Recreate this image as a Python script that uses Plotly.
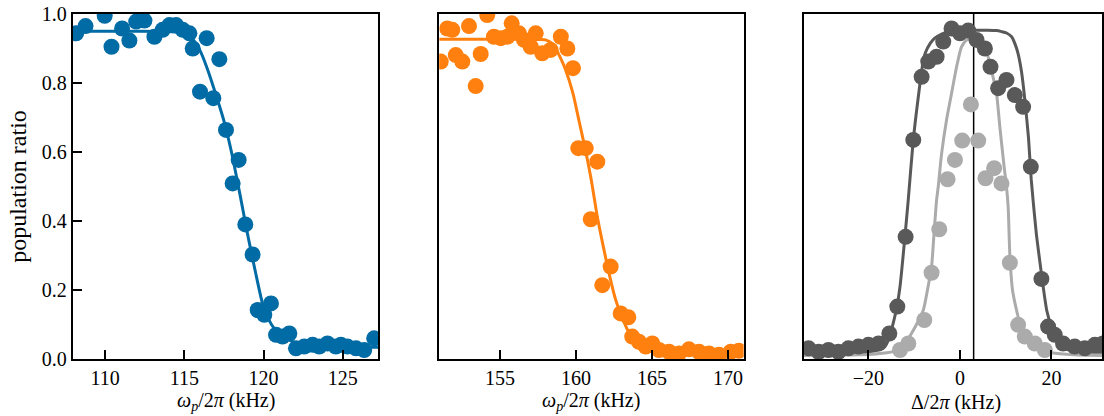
import plotly.graph_objects as go

# ---- panel 1: blue resonance scan ----
blue_x = [108.17, 108.76, 109.97, 110.4, 111.07, 111.53, 111.96, 112.48, 113.11, 113.63,
          114.06, 114.48, 114.9, 115.32, 115.53, 115.99, 116.41, 116.83, 117.21, 117.63,
          118.05, 118.43, 118.85, 119.31, 119.63, 120.05, 120.47, 120.79, 121.2, 121.63,
          122.05, 122.57, 123.1, 123.52, 124.04, 124.57, 124.89, 125.3, 125.84, 126.36, 126.99]
blue_y = [0.944, 0.965, 0.995, 0.905, 0.958, 0.923, 0.978, 0.981, 0.934, 0.954,
          0.968, 0.968, 0.954, 0.944, 0.900, 0.775, 0.930, 0.756, 0.869, 0.664,
          0.509, 0.577, 0.390, 0.303, 0.142, 0.128, 0.161, 0.070, 0.065, 0.074,
          0.031, 0.036, 0.041, 0.036, 0.045, 0.036, 0.041, 0.036, 0.031, 0.026, 0.060]
blue_fit_x = [108.0, 110, 112, 114, 115, 115.5, 116, 116.5, 117, 117.5, 118, 118.5,
              119, 119.5, 120, 120.5, 121, 121.5, 122, 123, 124, 125, 126, 127.3]
blue_fit_y = [0.950, 0.950, 0.950, 0.949, 0.944, 0.928, 0.893, 0.835, 0.765, 0.690, 0.595, 0.480,
              0.360, 0.250, 0.150, 0.100, 0.072, 0.058, 0.048, 0.040, 0.036, 0.035, 0.034, 0.034]

# ---- panel 2: orange resonance scan ----
orange_x = [151.1, 151.53, 151.86, 152.09, 152.52, 152.96, 153.4, 153.73, 154.16, 154.6,
            155.05, 155.48, 155.77, 156.25, 156.58, 157.02, 157.35, 157.78, 158.33, 159.0,
            159.43, 159.8, 160.15, 160.64, 160.97, 161.4, 161.73, 162.28, 162.94, 163.44,
            163.7, 164.14, 164.59, 165.02, 165.46, 166.12, 166.78, 167.43, 168.09, 168.75,
            169.41, 170.18, 170.72]
orange_y = [0.862, 0.958, 0.954, 0.881, 0.862, 0.965, 0.791, 0.884, 0.997, 0.934,
            0.930, 0.934, 0.973, 0.944, 0.925, 0.905, 0.944, 0.886, 0.896, 0.934,
            0.900, 0.843, 0.611, 0.611, 0.405, 0.572, 0.214, 0.268, 0.132, 0.121,
            0.065, 0.050, 0.036, 0.045, 0.026, 0.021, 0.016, 0.028, 0.021, 0.016,
            0.012, 0.021, 0.024]
orange_fit_x = [151, 153, 155, 157, 158, 158.5, 158.9, 159.3, 159.8, 160.2, 160.6, 161.0,
                161.4, 161.8, 162.2, 162.6, 163.0, 163.4, 164.0, 164.6, 165.5, 167, 169, 171]
orange_fit_y = [0.927, 0.927, 0.927, 0.927, 0.925, 0.912, 0.880, 0.840, 0.770, 0.690, 0.610, 0.520,
                0.413, 0.325, 0.243, 0.173, 0.125, 0.084, 0.052, 0.033, 0.021, 0.015, 0.013, 0.012]

# ---- panel 3: detuning scans (dark and light gray) ----
dark_x = [-33.1, -30.9, -28.75, -26.57, -24.39, -22.2, -20.02, -17.8, -15.44, -13.69,
          -11.88, -10.2, -8.38, -6.92, -5.1, -3.65, -1.83, 0.0, 1.81, 3.63,
          5.46, 6.69, 8.36, 10.18, 12.0, 13.82, 15.5, 17.82, 19.28, 20.74,
          22.55, 25.1, 27.3, 29.5, 31.3]
dark_y = [0.031, 0.021, 0.026, 0.021, 0.031, 0.036, 0.041, 0.045, 0.074, 0.152,
          0.354, 0.635, 0.818, 0.862, 0.876, 0.920, 0.958, 0.944, 0.952, 0.925,
          0.900, 0.847, 0.785, 0.809, 0.765, 0.731, 0.557, 0.232, 0.094, 0.070,
          0.045, 0.036, 0.031, 0.041, 0.045]
dark_fit_x = [-34.2, -25, -20, -18, -16.4, -15.5, -14.6, -13.8, -13.1, -12.2, -11.3, -10.2,
              -9.1, -8.2, -7.6, -6.5, -5.5, -4, -2.5, 0, 3, 6, 8, 9.1, 10.2, 11.3, 12.0,
              12.7, 13.5, 14.2, 15.0, 15.6, 16.7, 17.5, 18.2, 19.0, 20.0, 21, 22.2, 24, 28, 32]
dark_fit_y = [0.020, 0.020, 0.022, 0.026, 0.036, 0.060, 0.103, 0.150, 0.210, 0.330, 0.461, 0.635,
              0.760, 0.850, 0.886, 0.915, 0.930, 0.942, 0.949, 0.952, 0.953, 0.953, 0.952, 0.949,
              0.945, 0.934, 0.915, 0.886, 0.830, 0.751, 0.640, 0.519, 0.364, 0.280, 0.210, 0.140,
              0.094, 0.060, 0.036, 0.025, 0.020, 0.020]

light_x = [-13.1, -11.29, -7.79, -6.2, -4.52, -2.7, -1.09, 0.5, 2.4, 4.0,
           5.59, 7.49, 9.08, 10.92, 12.73, 14.19, 16.37, 18.56]
light_y = [0.026, 0.045, 0.113, 0.250, 0.376, 0.521, 0.577, 0.633, 0.738, 0.633,
           0.524, 0.553, 0.509, 0.279, 0.099, 0.065, 0.045, 0.026]
light_fit_x = [-34.2, -22, -16, -13.5, -12, -10.6, -9.3, -8.0, -7.1, -6.2, -5.6, -5.1, -4.74,
               -4.0, -2.93, -1.83, -0.73, 0.36, 1.5, 2.7, 4.0, 5.3, 6.3, 7.2, 8.0, 8.73, 9.67,
               10.18, 10.55, 10.92, 11.5, 12.37, 13.2, 14.19, 15.5, 17.8, 20, 25, 31.1]
light_fit_y = [0.010, 0.012, 0.018, 0.026, 0.045, 0.074, 0.105, 0.142, 0.200, 0.268, 0.376, 0.461,
               0.500, 0.596, 0.693, 0.770, 0.847, 0.905, 0.925, 0.930, 0.925, 0.905, 0.870, 0.820,
               0.770, 0.673, 0.557, 0.500, 0.440, 0.300, 0.200, 0.142, 0.100, 0.074, 0.050, 0.026,
               0.018, 0.012, 0.010]

resonance_line = 3.0

x_ticks_1 = [110, 115, 120, 125]
x_ticks_2 = [155, 160, 165, 170]
x_ticks_3 = [-20, 0, 20]
y_ticks = [0.0, 0.2, 0.4, 0.6, 0.8, 1.0]

BLUE = "#006BA4"
ORANGE = "#FF800E"
DARK = "#595959"
LIGHT = "#ABABAB"
FONT = "Liberation Serif"
MS = 16
LW = 3

fig = go.Figure()


def add_scan(x, y, fx, fy, color, xa, ya):
    fig.add_trace(go.Scatter(x=fx, y=fy, mode="lines", line=dict(color=color, width=LW, shape="spline", smoothing=0.6),
                             xaxis=xa, yaxis=ya, showlegend=False, hoverinfo="skip"))
    fig.add_trace(go.Scatter(x=x, y=y, mode="markers", marker=dict(color=color, size=MS, line=dict(width=0)),
                             xaxis=xa, yaxis=ya, showlegend=False))


add_scan(blue_x, blue_y, blue_fit_x, blue_fit_y, BLUE, "x", "y")
add_scan(orange_x, orange_y, orange_fit_x, orange_fit_y, ORANGE, "x2", "y2")

# vertical marker line on the detuning panel
fig.add_trace(go.Scatter(x=[resonance_line, resonance_line], y=[0, 1], mode="lines",
                         line=dict(color="black", width=1.5), xaxis="x3", yaxis="y3",
                         showlegend=False, hoverinfo="skip"))
add_scan(light_x, light_y, light_fit_x, light_fit_y, LIGHT, "x3", "y3")
add_scan(dark_x, dark_y, dark_fit_x, dark_fit_y, DARK, "x3", "y3")

W, H = 1104, 416
axis_common = dict(showline=True, linecolor="black", linewidth=2, mirror=True, ticks="inside",
                   ticklen=9, tickwidth=1.5, tickcolor="black", showgrid=False, zeroline=False,
                   tickfont=dict(family=FONT, size=20, color="black"))

xlabel_omega = "<i>ω<sub>p</sub></i>/2<i>π</i> (kHz)"
xlabel_delta = "Δ/2<i>π</i> (kHz)"

panels = [(73, 379), (440, 745), (805, 1104)]
x_domains = [[a / W, b / W] for a, b in panels]
x_labels = [xlabel_omega, xlabel_omega, xlabel_delta]

fig.update_layout(
    width=W, height=H,
    margin=dict(l=0, r=0, t=14, b=57),
    plot_bgcolor="white", paper_bgcolor="white",
    font=dict(family=FONT, size=20, color="black"),
    xaxis=dict(domain=x_domains[0], range=[107.96, 127.25], tickvals=x_ticks_1, **axis_common),
    yaxis=dict(domain=[0, 1], range=[0, 1], anchor="x", tickvals=y_ticks, tickformat=".1f",
               title=dict(text="population ratio", standoff=8), **axis_common),
    xaxis2=dict(domain=x_domains[1], range=[151.0, 171.03], tickvals=x_ticks_2, anchor="y2",
                **axis_common),
    yaxis2=dict(domain=[0, 1], range=[0, 1], anchor="x2", showticklabels=False,
                **{**axis_common, "ticks": ""}),
    xaxis3=dict(domain=x_domains[2], range=[-34.2, 31.07], tickvals=x_ticks_3, anchor="y3",
                **axis_common),
    yaxis3=dict(domain=[0, 1], range=[0, 1], anchor="x3", showticklabels=False,
                **{**axis_common, "ticks": ""}),
)

# x-axis titles centred under each panel
for (a, b), label in zip(panels, x_labels):
    centre = (a + b) / 2 if b < W else (a + 1110) / 2
    fig.add_annotation(text=label, xref="paper", yref="paper", x=centre / W, y=0,
                       xanchor="center", yanchor="bottom", yshift=-57, showarrow=False,
                       font=dict(family=FONT, size=20, color="black"))

fig.write_html("out.html")
